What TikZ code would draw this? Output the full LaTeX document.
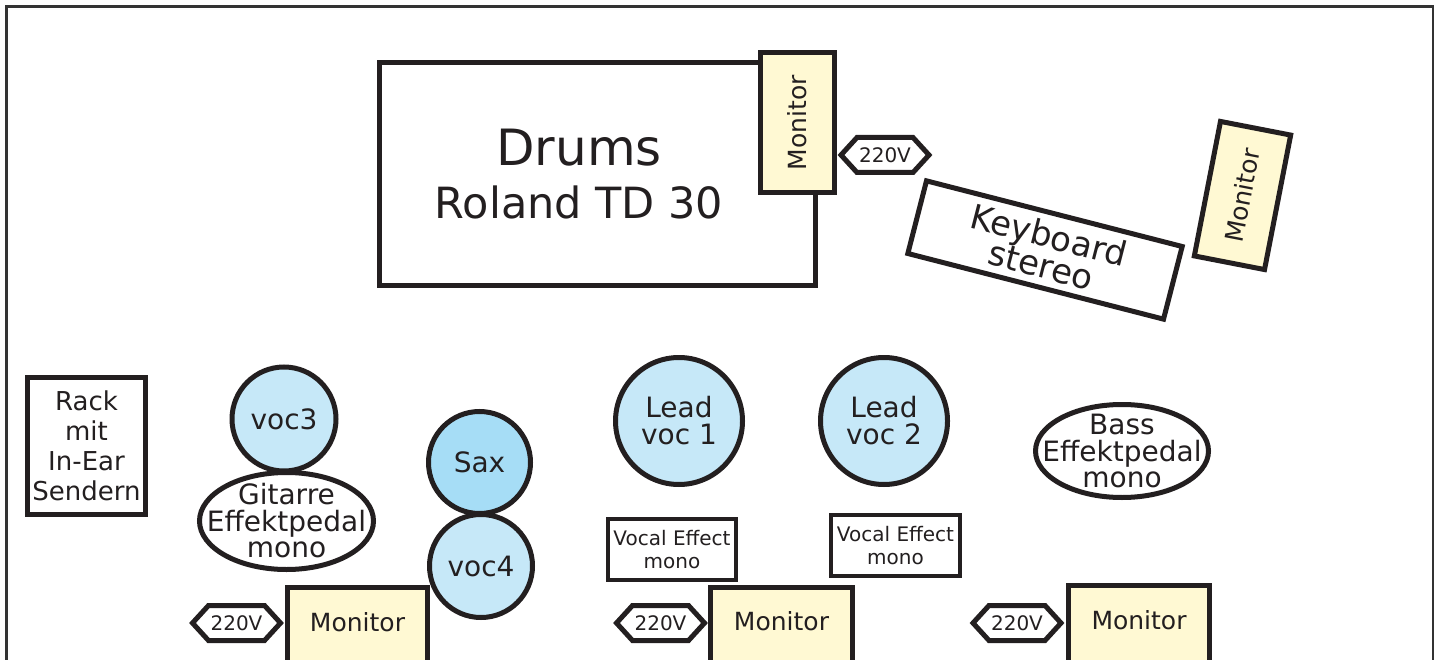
\documentclass[tikz,border=0pt]{standalone}
\usepackage{fontspec}
\setmainfont{DejaVu Sans}
\usetikzlibrary{shapes.geometric}
\definecolor{ink}{HTML}{231F20}
\definecolor{framegray}{HTML}{333333}
\definecolor{lblue}{HTML}{C6E8F8}
\definecolor{saxblue}{HTML}{A6DDF6}
\definecolor{monyellow}{HTML}{FFF9D3}
\begin{document}
\begin{tikzpicture}[x=1pt,y=-1pt,
  every node/.style={text=ink, align=center, inner sep=0pt, outer sep=0pt},
  stageframe/.style={draw=framegray, line width=2.8pt},
  stagebox/.style={rectangle, draw=ink, line width=5pt, fill=white},
  monitorbox/.style={stagebox, fill=monyellow, font=\fontsize{25}{28}\selectfont},
  vocal/.style={circle, draw=ink, line width=5pt, fill=lblue, font=\fontsize{28}{27}\selectfont},
  pedal/.style={ellipse, draw=ink, line width=5pt, fill=white},
  pedaltext/.style={font=\fontsize{28}{26.5}\selectfont},
  effectbox/.style={stagebox, line width=4pt, font=\fontsize{20}{23}\selectfont},
  powertext/.style={font=\fontsize{20}{22}\selectfont},
  powerline/.style={draw=ink, line width=5pt, fill=white},
]
\clip (0,0) rectangle (1439,660);
\fill[white] (0,0) rectangle (1439,660);

% outer frame (open at bottom)
\draw[stageframe] (6.5,670) -- (6.5,6.5) -- (1433,6.5) -- (1433,670);

% drums
\node[stagebox, minimum width=436, minimum height=223] (drums) at (597.5,174) {};
\node[font=\fontsize{50}{56}\selectfont] (drumsT) at (579,148) {Drums};
\node[font=\fontsize{43}{48}\selectfont] (rolandT) at (579,202) {Roland TD 30};
\node[monitorbox, rotate=90, minimum width=140, minimum height=74] (mondrum) at (797.5,122.5) {Monitor};

% power near drums
\coordinate (pd) at (885,155);
\draw[powerline] (pd) ++(-44,0) -- ++(16,-17.5) -- ++(56,0) -- ++(16,17.5) -- ++(-16,17.5) -- ++(-56,0) -- cycle;
\node[powertext] (pdT) at (pd) {220V};

% keyboard
\node[stagebox, rotate=-14.4, minimum width=264, minimum height=75, font=\fontsize{34}{31}\selectfont] (keys) at (1045,250) {Keyboard\\stereo};
\node[monitorbox, rotate=79, minimum width=137, minimum height=71.5] (monkeys) at (1242.5,195.5) {Monitor};

% rack
\node[stagebox, minimum width=118, minimum height=137, font=\fontsize{26}{30}\selectfont] (rack) at (86.5,446) {Rack\\mit\\In-Ear\\Sendern};

% guitar
\node[vocal, minimum size=104] (voc3) at (284,419) {voc3};
\node[pedal, minimum width=174, minimum height=97] (gitped) at (286.5,521) {};
\node[pedaltext] (gitpedT) at (gitped) {Gitarre\\Effektpedal\\mono};

% sax / voc4
\node[vocal, fill=saxblue, minimum size=102] (sax) at (479.5,462.5) {Sax};
\node[vocal, minimum size=103] (voc4) at (481,566) {voc4};

% lead vocals
\node[vocal, minimum size=127] (lead1) at (679,421) {Lead\\voc 1};
\node[vocal, minimum size=127] (lead2) at (884,421) {Lead\\voc 2};

% bass
\node[pedal, minimum width=173, minimum height=93] (bassped) at (1122,451) {};
\node[pedaltext] (bassT) at (bassped) {Bass\\Effektpedal\\mono};

% vocal effects
\node[effectbox, minimum width=128, minimum height=61] (vfx1) at (672,549.5) {Vocal Effect\\mono};
\node[effectbox, minimum width=129, minimum height=61] (vfx2) at (895.5,545.5) {Vocal Effect\\mono};

% bottom monitors
\node[monitorbox, minimum width=140, minimum height=75, text height=18.2pt, text depth=6pt] (mon1) at (357.5,625) {Monitor};
\node[monitorbox, minimum width=142, minimum height=75, text height=18.2pt, text depth=6pt] (mon2) at (781.5,624.5) {Monitor};
\node[monitorbox, minimum width=141, minimum height=77, text height=18.2pt, text depth=6pt] (mon3) at (1139,623.5) {Monitor};

% power bottom
\coordinate (p1) at (236.5,623);
\draw[powerline] (p1) ++(-44,0) -- ++(16,-17.5) -- ++(56,0) -- ++(16,17.5) -- ++(-16,17.5) -- ++(-56,0) -- cycle;
\node[powertext] (p1T) at (p1) {220V};
\coordinate (p2) at (660.5,623);
\draw[powerline] (p2) ++(-44,0) -- ++(16,-17.5) -- ++(56,0) -- ++(16,17.5) -- ++(-16,17.5) -- ++(-56,0) -- cycle;
\node[powertext] (p2T) at (p2) {220V};
\coordinate (p3) at (1017,623);
\draw[powerline] (p3) ++(-44,0) -- ++(16,-17.5) -- ++(56,0) -- ++(16,17.5) -- ++(-16,17.5) -- ++(-56,0) -- cycle;
\node[powertext] (p3T) at (p3) {220V};
\end{tikzpicture}
\end{document}
